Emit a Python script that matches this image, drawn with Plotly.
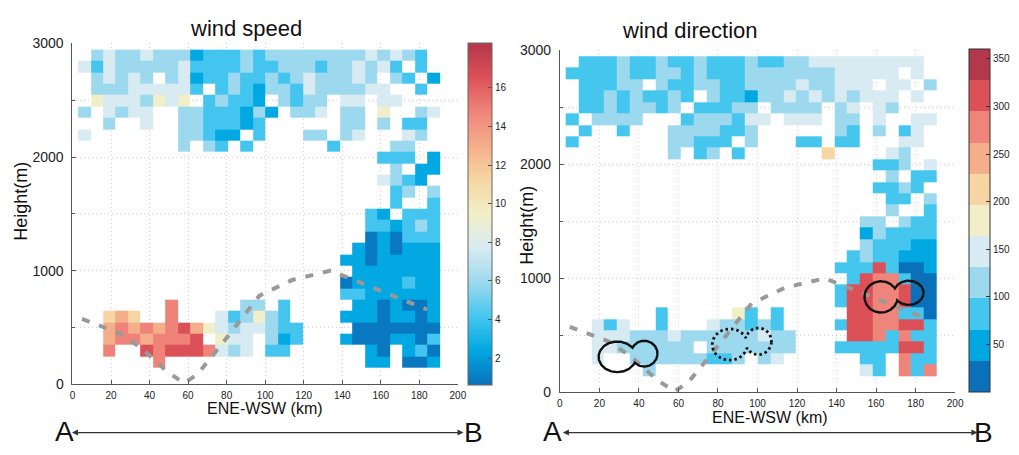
import math
import plotly.graph_objects as go

# ---------------- data ----------------
DIST_KM = [6.2, 12.7, 19.2, 25.6, 32.1, 38.6, 45.0, 51.5, 58.0, 64.5, 70.9, 77.4, 83.9,
           90.3, 96.8, 103.3, 109.8, 116.2, 122.7, 129.2, 135.6, 142.1, 148.6, 155.1,
           161.5, 168.0, 174.5, 180.9, 187.4]
HEIGHT_M = [95, 195, 295, 395, 495, 595, 695, 795, 895, 995, 1095, 1195, 1295, 1395,
            1495, 1595, 1695, 1795, 1895, 1995, 2095, 2195, 2295, 2395, 2495, 2595,
            2695, 2795, 2895]

# colour classes seen in the cells -> value (wind speed m/s, direction deg)
SPEED_OF_CLASS = {"D": 0.9, "B": 2.4, "C": 4.1, "L": 5.9, "P": 7.7, "Y": 9.4,
                  "O": 11.2, "A": 13.0, "S": 14.8, "R": 16.5, "K": 18.0}
DIR_OF_CLASS = {"D": 16, "B": 49, "C": 82, "L": 115, "P": 147, "Y": 180,
                "O": 213, "A": 245, "S": 278, "R": 311, "K": 344}

# rows listed from the top (2895 m) to the bottom (95 m); '.' = no data
SPEED_ROWS = [
    ".LPLLPLLLBCCCLCLLLLLLLLPLPLC.",
    "PCPLLLLLPCCCCLCCLLLCLLPLPC.C.",
    ".LPLPL.LPBCCLCCLCLPLLLPL.LC.B",
    ".LLLPPPPPC.CLCBLLCPLLLLPP..C.",
    ".YPPPLYPY.CLCCB.LCLL.PP.PP...",
    "L.PLPP..LLCCCBLB.LLP.LL.Y..LP",
    "..L..P..LLCCCBC......LL.L.CC.",
    "P.......LLCBB.C...LL.LP...PL.",
    "........L.LC.C......C....LL..",
    "........................CCC.B",
    ".........................L.BB",
    "........................PLCB.",
    ".........................CL.L",
    ".........................C..C",
    ".......................CB.CCC",
    ".......................CCBCLC",
    ".......................DBDCCC",
    "......................BDBDBBB",
    ".....................BBDBBBBB",
    "......................BBBBBBB",
    ".....................DBBBBCBB",
    ".....................CCBBBBBB",
    ".......S.....LL.C.....BBDBDDB",
    "..OAO..S...PCLYLC....BBBDBBDB",
    "..ASASASRAYPLPPLCC....DDDDDDD",
    "..ASSASSSR.YPP.LBC...BDDDBBDC",
    "..S..RSRRRSPLP.CC......BD.BCD",
    "......S................BB.DDB",
    ".............................",
]
DIR_ROWS = [
    ".CCCLCCLCCLCCCLCCLLPPPPPPPPP.",
    "CCCCLCCLLCLCCCLLLLLLLPPPPP.P.",
    ".CCCLL.LCCLLCCLLLLPLLPPP.PP.L",
    ".CCLCLCCLC.LCCBLLPLPLPLPPP.P.",
    ".CCLCLLCL.CCCLL.LLLL.LP.PL...",
    "C.LLLL...CLLLCPP.PPP.LL.P..PP",
    ".C..C...LLLLCCL......LC.L.CP.",
    "C.......LLCCC.L...CC.CC...PP.",
    "........L.CL.C......O....PL..",
    "........................CCL.P",
    ".........................L.CC",
    "........................CCLC.",
    ".........................CC.L",
    ".........................L..C",
    ".......................LL.LCC",
    ".......................BLCCCC",
    ".......................LCCCBB",
    "......................CLCCBBB",
    ".....................CCCRCDDB",
    "......................CRSSCDD",
    ".....................CRRSSRDD",
    ".....................CRRSSRDD",
    ".......C.....YC.C.....RRSSCCD",
    "..PCP..C...PLLCLC....CRRSSRRC",
    "..PPPLLLPLLLLLLPLL....RRSCSCC",
    "..PPLLLLLL.LLLLLLL...CCCCCRRC",
    "..P..LLLLLLCCL.LP......CC.SCC",
    "......L................PC.SCS",
    ".............................",
]

# dashed grey line along the section
RIDGE_KM = [5, 25, 36, 49, 58, 65, 78, 97, 114, 134, 152, 184]
RIDGE_M = [575, 445, 315, 113, 10, 90, 365, 780, 918, 1000, 878, 658]

# closed contours: two lobes each (centre km, centre m, half-width km, half-height m)
CONTOUR_A = [(29.1, 312, 9.5, 134), (42.7, 340, 6.7, 113)]
CONTOUR_B = [(86.0, 420, 8.9, 138), (100.5, 448, 6.6, 117)]     # dotted
CONTOUR_C = [(162.5, 837, 8.4, 137), (176.5, 873, 7.5, 106)]

SPEED_TICKS = [2, 4, 6, 8, 10, 12, 14, 16]
DIR_TICKS = [50, 100, 150, 200, 250, 300, 350]
X_TICKS = [0, 20, 40, 60, 80, 100, 120, 140, 160, 180, 200]
Y_TICKS = [0, 1000, 2000, 3000]

COLORS = ["#0a70ba", "#00a7e1", "#45c6ef", "#9dd9ee", "#d8ebf2", "#f2efc8",
          "#f7d6a3", "#f4ae8a", "#ef847a", "#dc5057", "#b3384b"]

# ---------------- helpers ----------------
def decode(rows, table):
    z = []
    for r in reversed(rows):
        assert len(r) == len(DIST_KM), r
        z.append([None if c == "." else table[c] for c in r])
    assert len(z) == len(HEIGHT_M)
    return z


def lobe_outline(l1, l2, m_per_km=16.9, n=361):
    def inside(x, y, cx, cy, rx, ry):
        return ((x - cx) / rx) ** 2 + ((y - cy) / ry) ** 2 < 1

    cand = []
    for i in range(201):
        t = i / 200
        x = l1[0] + t * (l2[0] - l1[0])
        y = l1[1] + t * (l2[1] - l1[1])
        if inside(x, y, *l1) and inside(x, y, *l2):
            cand.append((x, y))
    x0, y0 = cand[len(cand) // 2]

    def ray(cx, cy, rx, ry, dx, dy):
        u = (x0 - cx) / rx
        v = (y0 - cy) / ry
        a = dx / rx
        b = dy / ry
        A = a * a + b * b
        B = 2 * (u * a + v * b)
        C = u * u + v * v - 1
        return (-B + math.sqrt(B * B - 4 * A * C)) / (2 * A)

    xs, ys = [], []
    for i in range(n):
        th = 2 * math.pi * i / (n - 1)
        dx = math.cos(th)
        dy = math.sin(th) * m_per_km
        r = max(ray(*l1, dx, dy), ray(*l2, dx, dy))
        xs.append(x0 + r * dx)
        ys.append(y0 + r * dy)
    return xs, ys


W, H = 1019, 455
px = lambda v: v / W
py = lambda v: 1 - v / H

REG = "Liberation Sans, Arial, Helvetica, sans-serif"
GRID = "#d2d2d2"

speed_cs = [[i / 10, c] for i, c in enumerate(COLORS)]
dir_cs = []
for i, c in enumerate(COLORS):
    dir_cs.append([i / 11, c])
    dir_cs.append([(i + 1) / 11, c])

fig = go.Figure()

fig.add_trace(go.Heatmap(
    x=DIST_KM, y=HEIGHT_M, z=decode(SPEED_ROWS, SPEED_OF_CLASS),
    colorscale=speed_cs, zmin=0.6, zmax=18.3, xaxis="x", yaxis="y",
    hoverinfo="skip", xgap=0, ygap=0,
    colorbar=dict(x=px(471), xanchor="left", y=py((36.7 + 391) / 2), yanchor="middle",
                  len=(391 - 36.7) / H, thickness=24, xpad=0, ypad=0,
                  outlinewidth=1, outlinecolor="#666",
                  tickvals=SPEED_TICKS, ticks="inside", ticklen=4, tickcolor="#555",
                  tickfont=dict(family=REG, size=10, color="#222")),
))
fig.add_trace(go.Heatmap(
    x=DIST_KM, y=HEIGHT_M, z=decode(DIR_ROWS, DIR_OF_CLASS),
    colorscale=dir_cs, zmin=0, zmax=360, xaxis="x2", yaxis="y2",
    hoverinfo="skip", xgap=0, ygap=0,
    colorbar=dict(x=px(978), xanchor="left", y=py((42.7 + 398.3) / 2), yanchor="middle",
                  len=(398.3 - 42.7) / H, thickness=21, xpad=0, ypad=0,
                  outlinewidth=1, outlinecolor="#333",
                  tickvals=DIR_TICKS, ticks="inside", ticklen=4, tickcolor="#333",
                  tickfont=dict(family=REG, size=10, color="#222")),
))

for xa_, ya_ in (("x", "y"), ("x2", "y2")):
    fig.add_trace(go.Scatter(x=RIDGE_KM, y=RIDGE_M, mode="lines", xaxis=xa_, yaxis=ya_,
                             line=dict(color="#999999", width=4, dash="8px,10px"),
                             hoverinfo="skip"))

for lobes, dash in ((CONTOUR_A, "solid"), (CONTOUR_B, "2.5px,3px"), (CONTOUR_C, "solid")):
    cx, cy = lobe_outline(*lobes)
    fig.add_trace(go.Scatter(x=cx, y=cy, mode="lines", xaxis="x2", yaxis="y2",
                             line=dict(color="#111111", width=2.4 if dash == "solid" else 2.8,
                                       dash=dash),
                             hoverinfo="skip"))

axis_common = dict(showline=True, linecolor="#555", linewidth=1, ticks="inside",
                   ticklen=4, tickcolor="#555", showgrid=True, gridcolor=GRID,
                   griddash="1px,3px", gridwidth=1, zeroline=False, mirror=False)

xa = dict(axis_common, range=[0, 200], tickvals=X_TICKS, ticklabelstandoff=2,
          tickfont=dict(family=REG, size=10, color="#222"))
ya = dict(axis_common, range=[0, 3000], tickvals=Y_TICKS, ticklabelstandoff=5,
          tickfont=dict(family=REG, size=14, color="#222"),
          minor=dict(dtick=500, tick0=0, showgrid=True, gridcolor=GRID,
                     griddash="1px,3px", ticks="inside", ticklen=3, tickcolor="#555"))

fig.update_layout(
    width=W, height=H, margin=dict(l=0, r=0, t=0, b=0),
    paper_bgcolor="white", plot_bgcolor="white", showlegend=False,
    xaxis=dict(xa, domain=[px(70.3), px(460.3)], anchor="y"),
    yaxis=dict(ya, domain=[py(390), py(36.7)], anchor="x"),
    xaxis2=dict(xa, domain=[px(563.5), px(963.5)], anchor="y2"),
    yaxis2=dict(ya, domain=[py(398.5), py(43.5)], anchor="x2"),
)

ann = []
def text(t, x, y, size, angle=0):
    ann.append(dict(text=t, x=px(x), y=py(y), xref="paper", yref="paper",
                    showarrow=False, xanchor="center", yanchor="middle", textangle=angle,
                    font=dict(family=REG, size=size, color="#111")))

text("wind speed", 246, 21, 22)
text("wind direction", 695, 23, 22)
text("ENE-WSW (km)", 265, 415, 16)
text("ENE-WSW (km)", 776, 424, 16)
text("Height(m)", 18, 200, 18, -90)
text("Height(m)", 530, 225, 18, -90)
text("A", 62, 439, 28)
text("B", 476, 440, 28)
text("A", 556, 439, 28)
text("B", 992, 440, 28)

for x_head, x_tail in ((466, 73), (986, 570)):
    ann.append(dict(text="", x=px(x_head), y=py(440), xref="paper", yref="paper",
                    ax=-(x_head - x_tail), ay=0, axref="pixel", ayref="pixel",
                    showarrow=True, arrowhead=2, arrowside="end+start", arrowsize=1,
                    arrowwidth=1.2, arrowcolor="#333", standoff=0, startstandoff=0))

fig.update_layout(annotations=ann)
fig.write_html("out.html")
